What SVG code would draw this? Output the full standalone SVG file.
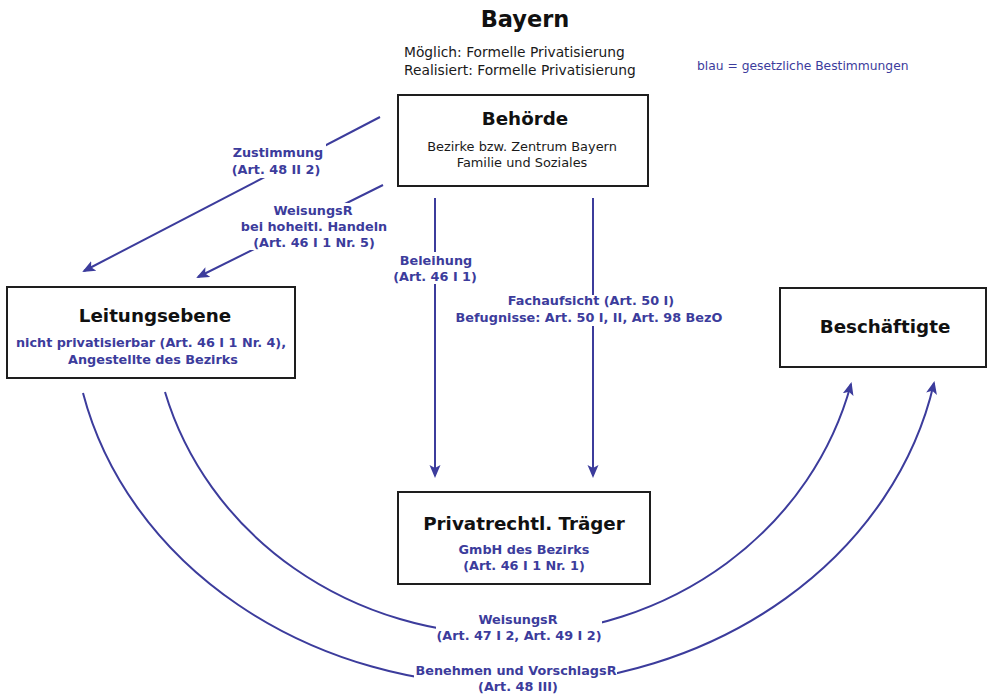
<svg xmlns="http://www.w3.org/2000/svg" width="990" height="696" viewBox="0 0 990 696">
  <style>
    text { font-family: "DejaVu Sans", "Liberation Sans", sans-serif; }
    .title { font-size: 22.5px; font-weight: bold; fill: #111; text-anchor: middle; }
    .head { font-size: 13.8px; fill: #1a1a1a; }
    .legend { font-size: 12.3px; fill: #3c3c9c; }
    .box { fill: #fff; stroke: #1e1e1e; stroke-width: 2; }
    .name { font-size: 18.3px; font-weight: bold; fill: #111; text-anchor: middle; }
    .sub { font-size: 12.9px; fill: #1a1a1a; text-anchor: middle; }
    .law { font-size: 12.8px; font-weight: bold; fill: #3c3c9c; text-anchor: middle; }
    .edge { fill: none; stroke: #3c3c9c; stroke-width: 2; marker-end: url(#arrow); }
  </style>
  <defs>
    <marker id="arrow" markerUnits="userSpaceOnUse" markerWidth="14" markerHeight="12" refX="11" refY="5.5" orient="auto">
      <path d="M0,0 L13,5.5 L0,11 L3,5.5 z" fill="#3c3c9c"/>
    </marker>
    <!-- openings in the connector lines where their labels sit -->
    <mask id="label-gaps" maskUnits="userSpaceOnUse" x="0" y="0" width="990" height="696">
      <rect x="0" y="0" width="990" height="696" fill="#fff"/>
      <rect x="232" y="144" width="94" height="34" fill="#000"/>
      <rect x="240" y="203" width="150" height="47" fill="#000"/>
      <rect x="390" y="252" width="90" height="32" fill="#000"/>
      <rect x="450" y="295" width="280" height="31" fill="#000"/>
      <rect x="436" y="603" width="166" height="44" fill="#000"/>
      <rect x="414" y="655" width="203" height="41" fill="#000"/>
    </mask>
  </defs>

  <rect width="990" height="696" fill="#fff"/>

  <!-- heading -->
  <text class="title" x="525" y="27">Bayern</text>
  <text class="head" x="404" y="57">Möglich: Formelle Privatisierung</text>
  <text class="head" x="404" y="75">Realisiert: Formelle Privatisierung</text>
  <text class="legend" x="697" y="70">blau = gesetzliche Bestimmungen</text>

  <!-- connectors -->
  <g id="connectors" mask="url(#label-gaps)">
    <path class="edge" d="M380,117 L84,271"/>
    <path class="edge" d="M383,185 L198,277"/>
    <path class="edge" d="M435,198 L435,476"/>
    <path class="edge" d="M593,198 L593,476"/>
    <path class="edge" d="M165,392 A355,332 0 0 0 851,384"/>
    <path class="edge" d="M83,393 A435,375 0 0 0 934,383"/>
  </g>

  <!-- connector labels -->
  <g id="connector-labels">
    <text class="law" x="278" y="157">Zustimmung</text>
    <text class="law" x="276" y="174">(Art. 48 II 2)</text>
    <text class="law" x="313" y="215">WeisungsR</text>
    <text class="law" x="314" y="231">bei hoheitl. Handeln</text>
    <text class="law" x="314" y="247">(Art. 46 I 1 Nr. 5)</text>
    <text class="law" x="436" y="265">Beleihung</text>
    <text class="law" x="435" y="281">(Art. 46 I 1)</text>
    <text class="law" x="591" y="305">Fachaufsicht (Art. 50 I)</text>
    <text class="law" x="589" y="322">Befugnisse: Art. 50 I, II, Art. 98 BezO</text>
    <text class="law" x="518" y="624">WeisungsR</text>
    <text class="law" x="519" y="640">(Art. 47 I 2, Art. 49 I 2)</text>
    <text class="law" x="516" y="675">Benehmen und VorschlagsR</text>
    <text class="law" x="518" y="691">(Art. 48 III)</text>
  </g>

  <!-- nodes -->
  <g id="behoerde">
    <rect class="box" x="398" y="95" width="250" height="91"/>
    <text class="name" x="525" y="125">Behörde</text>
    <text class="sub" x="522" y="151">Bezirke bzw. Zentrum Bayern</text>
    <text class="sub" x="522" y="167">Familie und Soziales</text>
  </g>

  <g id="leitungsebene">
    <rect class="box" x="7" y="287" width="288" height="91"/>
    <text class="name" x="155" y="322">Leitungsebene</text>
    <text class="law" x="151" y="347">nicht privatisierbar (Art. 46 I 1 Nr. 4),</text>
    <text class="law" x="153" y="364">Angestellte des Bezirks</text>
  </g>

  <g id="beschaeftigte">
    <rect class="box" x="780" y="288" width="206" height="79"/>
    <text class="name" x="885" y="333">Beschäftigte</text>
  </g>

  <g id="traeger">
    <rect class="box" x="398" y="492" width="252" height="92"/>
    <text class="name" x="524" y="530">Privatrechtl. Träger</text>
    <text class="law" x="524" y="554">GmbH des Bezirks</text>
    <text class="law" x="524" y="570">(Art. 46 I 1 Nr. 1)</text>
  </g>
</svg>
